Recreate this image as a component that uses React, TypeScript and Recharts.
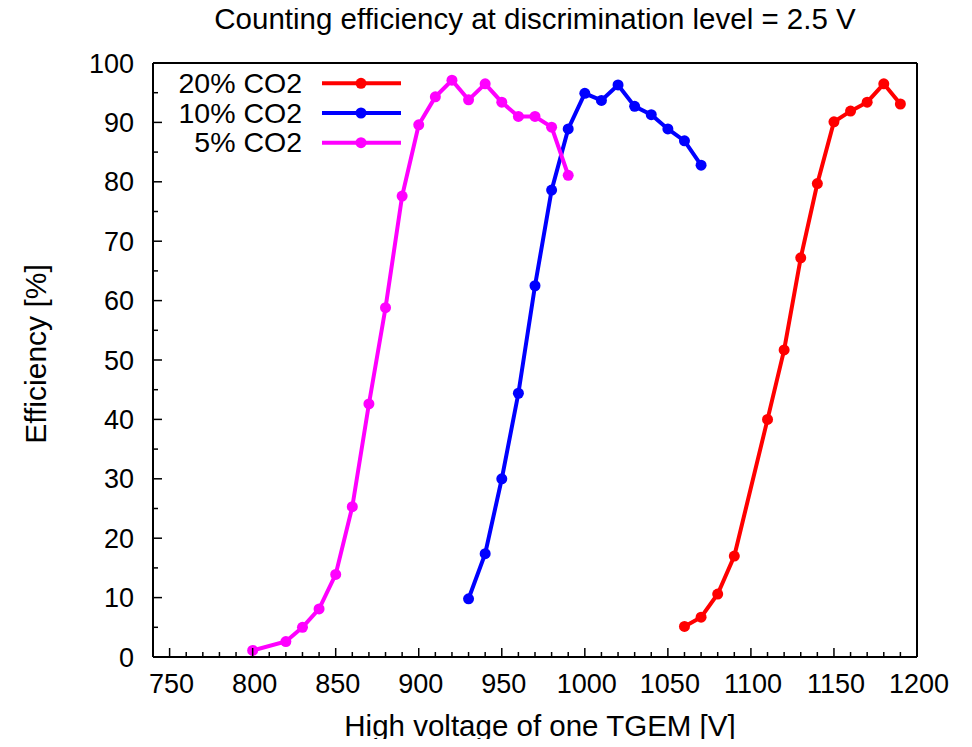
import { LineChart, Line, XAxis, YAxis } from 'recharts';

// 5% CO2
const volt5 = [800, 820, 830, 840, 850, 860, 870, 880, 890, 900, 910, 920, 930, 940, 950, 960, 970, 980, 990];
const eff5 = [1.1, 2.6, 5.0, 8.1, 13.9, 25.3, 42.6, 58.8, 77.6, 89.6, 94.3, 97.1, 93.8, 96.5, 93.4, 91.0, 91.0, 89.2, 81.1];

// 10% CO2
const volt10 = [930, 940, 950, 960, 970, 980, 990, 1000, 1010, 1020, 1030, 1040, 1050, 1060, 1070];
const eff10 = [9.8, 17.4, 30.0, 44.4, 62.5, 78.6, 88.9, 94.9, 93.7, 96.3, 92.7, 91.3, 88.9, 86.9, 82.8];

// 20% CO2
const volt20 = [1060, 1070, 1080, 1090, 1110, 1120, 1130, 1140, 1150, 1160, 1170, 1180, 1190];
const eff20 = [5.15, 6.7, 10.6, 17.0, 40.0, 51.7, 67.2, 79.7, 90.1, 91.9, 93.4, 96.5, 93.1];

const xTicks = Array.from({ length: 46 }, (_, i) => 750 + i * 10);
const yTicks = Array.from({ length: 21 }, (_, i) => i * 5);

const toRows = (xs: number[], ys: number[]) => xs.map((v, i) => ({ v, e: ys[i] }));

const series = [
  { name: '20% CO2', color: '#ff0000', data: toRows(volt20, eff20) },
  { name: '10% CO2', color: '#0000ff', data: toRows(volt10, eff10) },
  { name: '5% CO2', color: '#ff00ff', data: toRows(volt5, eff5) },
];

const FONT = '"Liberation Sans", Arial, Helvetica, sans-serif';

const BottomTick = (p: any) => {
  const major = p.payload.value % 50 === 0;
  return (
    <g>
      <line x1={p.x} x2={p.x} y1={p.y - 1} y2={p.y - 1 - (major ? 8 : 4)} stroke="#000" strokeWidth={1.5} />
      {major && (
        <text x={p.x + 2} y={p.y + 36} textAnchor="middle" fontSize={27} fontFamily={FONT} fill="#000">
          {p.payload.value}
        </text>
      )}
    </g>
  );
};

const TopTick = (p: any) => {
  const major = p.payload.value % 50 === 0;
  return <line x1={p.x} x2={p.x} y1={p.y + 1} y2={p.y + 1 + (major ? 8 : 4)} stroke="#000" strokeWidth={1.5} />;
};

const LeftTick = (p: any) => {
  const major = p.payload.value % 10 === 0;
  return (
    <g>
      <line x1={p.x + 1} x2={p.x + 1 + (major ? 8 : 4)} y1={p.y} y2={p.y} stroke="#000" strokeWidth={1.5} />
      {major && (
        <text x={p.x - 19} y={p.y + 9.5} textAnchor="end" fontSize={27} fontFamily={FONT} fill="#000">
          {p.payload.value}
        </text>
      )}
    </g>
  );
};

const RightTick = (p: any) => {
  const major = p.payload.value % 10 === 0;
  return <line x1={p.x - 1} x2={p.x - 1 - (major ? 8 : 4)} y1={p.y} y2={p.y} stroke="#000" strokeWidth={1.5} />;
};

const Overlay = () => (
  <svg width={972} height={747} style={{ position: 'absolute', top: 0, left: 0, pointerEvents: 'none' }}>
    <text x={535} y={29} textAnchor="middle" fontSize={29.5} fontFamily={FONT} fill="#000">
      Counting efficiency at discrimination level = 2.5 V
    </text>
    <text x={540} y={735.5} textAnchor="middle" fontSize={29.5} fontFamily={FONT} fill="#000">
      High voltage of one TGEM [V]
    </text>
    <text
      x={46}
      y={354}
      transform="rotate(-90 46 354)"
      textAnchor="middle"
      fontSize={30}
      fontFamily={FONT}
      fill="#000"
    >
      Efficiency [%]
    </text>
    {series.map((s, i) => {
      const y = 83.3 + i * 29.7;
      return (
        <g key={s.name}>
          <text x={302} y={y + 9.5} textAnchor="end" fontSize={28.5} fontFamily={FONT} fill="#000">
            {s.name}
          </text>
          <line x1={322} x2={401} y1={y} y2={y} stroke={s.color} strokeWidth={4} />
          <circle cx={361} cy={y} r={5.5} fill={s.color} />
        </g>
      );
    })}
  </svg>
);

const axisLine = { stroke: '#000', strokeWidth: 2 };

export default function App() {
  return (
    <div style={{ position: 'relative', width: 972, height: 747, margin: -8, background: '#fff' }}>
      <LineChart width={972} height={747} margin={{ top: 62, right: 54, bottom: 89, left: 152 }}>
        <XAxis
          xAxisId="b"
          dataKey="v"
          type="number"
          domain={[740, 1200]}
          ticks={xTicks}
          interval={0}
          height={1}
          tickSize={0}
          tickMargin={0}
          tick={<BottomTick />}
          tickLine={false}
          axisLine={axisLine}
          allowDataOverflow
        />
        <XAxis
          xAxisId="t"
          orientation="top"
          dataKey="v"
          type="number"
          domain={[740, 1200]}
          ticks={xTicks}
          interval={0}
          height={1}
          tickSize={0}
          tickMargin={0}
          tick={<TopTick />}
          tickLine={false}
          axisLine={axisLine}
        />
        <YAxis
          yAxisId="l"
          type="number"
          domain={[0, 100]}
          ticks={yTicks}
          interval={0}
          width={1}
          tickSize={0}
          tickMargin={0}
          tick={<LeftTick />}
          tickLine={false}
          axisLine={axisLine}
        />
        <YAxis
          yAxisId="r"
          orientation="right"
          type="number"
          domain={[0, 100]}
          ticks={yTicks}
          interval={0}
          width={1}
          tickSize={0}
          tickMargin={0}
          tick={<RightTick />}
          tickLine={false}
          axisLine={axisLine}
        />
        {series.map((s) => (
          <Line
            key={s.name}
            xAxisId="b"
            yAxisId="l"
            data={s.data}
            dataKey="e"
            name={s.name}
            type="linear"
            stroke={s.color}
            strokeWidth={4}
            dot={{ r: 5.5, fill: s.color, stroke: s.color, strokeWidth: 0 }}
            isAnimationActive={false}
          />
        ))}
      </LineChart>
      <Overlay />
    </div>
  );
}
